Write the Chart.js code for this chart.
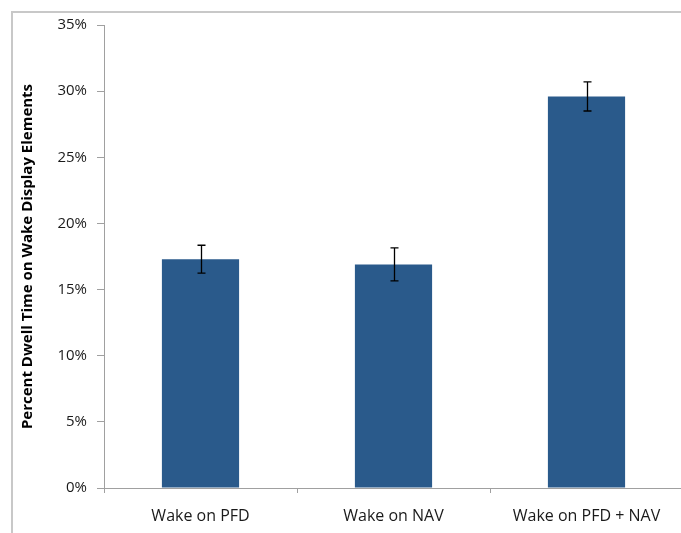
<!DOCTYPE html>
<html>
<head>
<meta charset="utf-8">
<script src="https://cdn.jsdelivr.net/npm/chart.js@4/dist/chart.umd.min.js"></script>
<style>
html,body{margin:0;padding:0;background:#fff;overflow:hidden;width:681px;height:533px;}
#wrap{position:absolute;left:0;top:0;width:690px;height:533px;}
</style>
</head>
<body>
<div id="wrap"><canvas id="c" width="690" height="533"></canvas></div>
<script>
const categories = ["Wake on PFD", "Wake on NAV", "Wake on PFD + NAV"];
const values = [17.3, 16.9, 29.6];
const errors = [1.05, 1.25, 1.1];
const yTicks = [0, 5, 10, 15, 20, 25, 30, 35];

const frame = {
  id: 'frame',
  beforeDraw(chart) {
    const ctx = chart.ctx;
    ctx.save();
    ctx.fillStyle = '#fff';
    ctx.fillRect(0, 0, chart.width, chart.height);
    ctx.strokeStyle = '#c8c8c8';
    ctx.lineWidth = 2;
    ctx.strokeRect(12, 12, chart.width + 20, chart.height + 20);
    ctx.restore();
  }
};

const errorBars = {
  id: 'errorBars',
  afterDatasetsDraw(chart) {
    const ctx = chart.ctx;
    const meta = chart.getDatasetMeta(0);
    const y = chart.scales.y;
    ctx.save();
    ctx.strokeStyle = '#000';
    ctx.lineWidth = 1.3;
    meta.data.forEach((bar, i) => {
      const x = Math.round(bar.x) + 0.5;
      const t = y.getPixelForValue(values[i] + errors[i]);
      const b = y.getPixelForValue(values[i] - errors[i]);
      ctx.beginPath();
      ctx.moveTo(x, t); ctx.lineTo(x, b);
      ctx.moveTo(x - 4, t); ctx.lineTo(x + 4, t);
      ctx.moveTo(x - 4, b); ctx.lineTo(x + 4, b);
      ctx.stroke();
    });
    ctx.restore();
  }
};

new Chart(document.getElementById('c'), {
  type: 'bar',
  data: {
    labels: categories,
    datasets: [{
      data: values,
      backgroundColor: '#2a5a8b',
      borderWidth: 0,
      categoryPercentage: 1,
      barPercentage: 0.4
    }]
  },
  options: {
    responsive: false,
    animation: false,
    devicePixelRatio: 1,
    layout: { padding: { top: 25, right: 7, left: 0, bottom: 0 } },
    plugins: { legend: { display: false }, tooltip: { enabled: false } },
    scales: {
      x: {
        grid: { offset: true, drawOnChartArea: false, drawTicks: true, tickLength: 5, color: '#a0a0a0' },
        border: { color: '#a0a0a0', width: 1 },
        ticks: { color: '#1a1a1a', font: { family: 'Open Sans', size: 16 }, padding: 14, maxRotation: 0 },
        afterFit(scale) { scale.height = 45; }
      },
      y: {
        min: 0, max: 35,
        afterBuildTicks(scale) { scale.ticks = yTicks.map(v => ({ value: v })); },
        grid: { drawOnChartArea: false, drawTicks: true, tickLength: 7, color: '#a0a0a0' },
        border: { color: '#a0a0a0', width: 1 },
        ticks: { color: '#1a1a1a', font: { family: 'Open Sans', size: 15 }, padding: 10, callback: v => v + '%' },
        title: {
          display: true,
          text: 'Percent Dwell Time on Wake Display Elements',
          color: '#000',
          font: { family: 'Open Sans', size: 15, weight: 'bold' },
          padding: { top: 19, bottom: 0 }
        },
        afterFit(scale) { scale.width = 104; }
      }
    }
  },
  plugins: [frame, errorBars]
});
</script>
</body>
</html>
